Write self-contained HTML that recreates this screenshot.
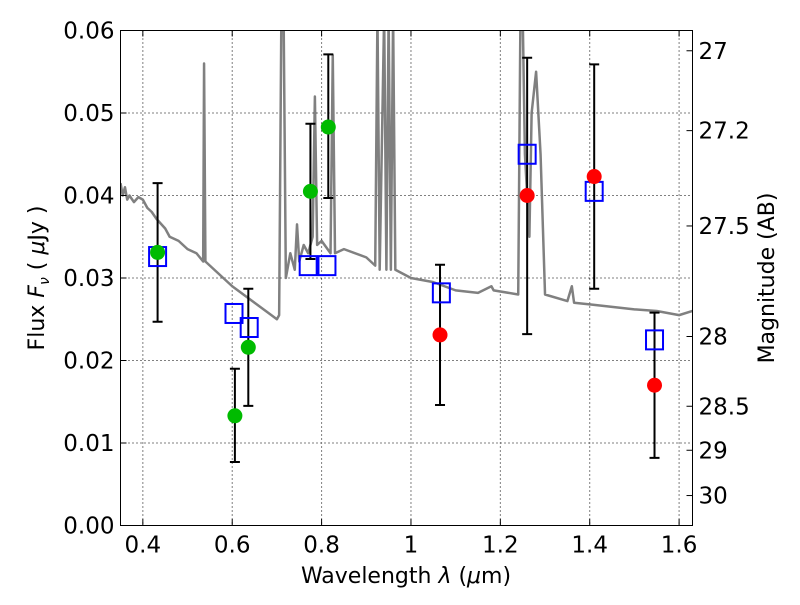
<!DOCTYPE html>
<html><head><meta charset="utf-8"><style>
body{margin:0;background:#fff}
svg text{font-family:"DejaVu Sans","Liberation Sans",sans-serif;fill:#000}
</style></head><body>
<svg id="chart" width="800" height="600" xmlns="http://www.w3.org/2000/svg">
<rect width="800" height="600" fill="#fff"/>
<g id="grid"></g>
<g id="spec"></g>
<g id="marks"></g>
<rect x="120.5" y="30.5" width="572" height="495" fill="none" stroke="#000" stroke-width="1"/>
<g id="axes"></g>
<text x="406" y="583" style="font-size:22px" text-anchor="middle">Wavelength  <tspan font-style="italic">λ</tspan> (<tspan font-style="italic">μ</tspan>m)</text>
<text transform="translate(44,278) rotate(-90)" style="font-size:22px" text-anchor="middle">Flux  <tspan font-style="italic">F</tspan><tspan font-style="italic" style="font-size:14px" dy="5">ν</tspan><tspan dy="-5">  (  </tspan><tspan font-style="italic">μ</tspan>Jy )</text>
<text transform="translate(774,278) rotate(-90)" style="font-size:22px" text-anchor="middle">Magnitude (AB)</text>
</svg>
<script>
const xTicks=[0.4,0.6,0.8,1.0,1.2,1.4,1.6];
const xTickLabels=["0.4","0.6","0.8","1","1.2","1.4","1.6"];
const yTicks=[0,0.01,0.02,0.03,0.04,0.05,0.06];
const yTickLabels=["0.00","0.01","0.02","0.03","0.04","0.05","0.06"];
const magTicks=[27,27.2,27.5,28,28.5,29,30];
const magTickLabels=["27","27.2","27.5","28","28.5","29","30"];
const greenX=[0.433,0.606,0.636,0.775,0.815];
const greenY=[0.0331,0.0133,0.0216,0.0405,0.0483];
const greenLo=[0.0247,0.0077,0.0145,0.0323,0.0397];
const greenHi=[0.0415,0.0190,0.0287,0.0487,0.0571];
const redX=[1.065,1.26,1.41,1.545];
const redY=[0.0231,0.0400,0.0423,0.0170];
const redLo=[0.0146,0.0232,0.0287,0.0082];
const redHi=[0.0316,0.0567,0.0559,0.0258];
const modelX=[0.433,0.604,0.638,0.770,0.812,1.068,1.26,1.41,1.545];
const modelY=[0.0326,0.0257,0.0240,0.0315,0.0315,0.0282,0.0450,0.0405,0.0225];
const specL=[0.35,0.355,0.36,0.365,0.37,0.38,0.39,0.40,0.41,0.42,0.43,0.45,0.46,0.48,0.50,0.52,0.535,0.537,0.54,0.56,0.60,0.65,0.68,0.70,0.705,0.71,0.715,0.72,0.73,0.74,0.745,0.75,0.76,0.77,0.78,0.785,0.79,0.80,0.82,0.825,0.83,0.85,0.90,0.92,0.925,0.93,0.94,0.945,0.95,0.955,0.96,0.965,1.0,1.05,1.1,1.15,1.18,1.185,1.24,1.245,1.25,1.255,1.265,1.27,1.28,1.29,1.30,1.35,1.36,1.365,1.40,1.45,1.50,1.55,1.60,1.63];
const specF=[0.0415,0.0400,0.0410,0.0395,0.0400,0.0392,0.0398,0.0395,0.0385,0.0380,0.0372,0.0360,0.0350,0.0345,0.0335,0.0330,0.0320,0.0560,0.0320,0.0310,0.0290,0.0270,0.0258,0.0250,0.0255,0.0620,0.0620,0.0300,0.0330,0.0310,0.0365,0.0320,0.0340,0.0330,0.0350,0.0520,0.0340,0.0345,0.0330,0.0570,0.0330,0.0335,0.0325,0.0315,0.0620,0.0310,0.0620,0.0310,0.0620,0.0310,0.0620,0.0310,0.0300,0.0295,0.0285,0.0282,0.0290,0.0285,0.0280,0.0620,0.0620,0.0450,0.0350,0.0500,0.0550,0.0450,0.0280,0.0272,0.0290,0.0270,0.0268,0.0265,0.0262,0.0260,0.0255,0.0260];
const NS="http://www.w3.org/2000/svg";
const X0=120.5,X1=692.5,Y0=525.5,Y1=30.5,XMIN=0.35,XMAX=1.63,YMIN=0,YMAX=0.06;
const sx=v=>X0+(v-XMIN)/(XMAX-XMIN)*(X1-X0);
const sy=v=>Y0-(v-YMIN)/(YMAX-YMIN)*(Y0-Y1);
const magToFlux=m=>Math.pow(10,(23.9-m)/2.5);
function mk(tag,attrs,parent){const e=document.createElementNS(NS,tag);for(const k in attrs)e.setAttribute(k,attrs[k]);parent.appendChild(e);return e;}
const grid=document.getElementById('grid'),axes=document.getElementById('axes'),spec=document.getElementById('spec'),marks=document.getElementById('marks');
xTicks.forEach((t,i)=>{const x=sx(t);
 let g=mk('line',{x1:x,x2:x,y1:Y1,y2:Y0,stroke:'#000','stroke-width':1,'stroke-dasharray':'1,3'},grid);
 
 let tk=mk('line',{x1:x,x2:x,y1:Y0,y2:Y0-6,stroke:'#000'},axes);
 
 mk('line',{x1:x,x2:x,y1:Y1,y2:Y1+6,stroke:'#000'},axes);
 let tx=mk('text',{x:x,y:Y0+27,style:'font-size:23px','text-anchor':'middle'},axes);tx.textContent=xTickLabels[i];
 });
yTicks.forEach((t,i)=>{const y=sy(t);
 let g=mk('line',{x1:X0,x2:X1,y1:y,y2:y,stroke:'#000','stroke-width':1,'stroke-dasharray':'1,3'},grid);
 
 let tk=mk('line',{x1:X0,x2:X0+6,y1:y,y2:y,stroke:'#000'},axes);
 
 let tx=mk('text',{x:X0-6,y:y+8,style:'font-size:23px','text-anchor':'end'},axes);tx.textContent=yTickLabels[i];
 });
magTicks.forEach((m,i)=>{const y=sy(magToFlux(m));
 let tk=mk('line',{x1:X1-6,x2:X1,y1:y,y2:y,stroke:'#000'},axes);
 
 let tx=mk('text',{x:X1+6,y:y+8,style:'font-size:23px'},axes);tx.textContent=magTickLabels[i];
 });
const defs=mk('defs',{},document.getElementById('chart'));
const cp=mk('clipPath',{id:'clip'},defs);mk('rect',{x:X0,y:Y1,width:X1-X0,height:Y0-Y1},cp);
spec.setAttribute('clip-path','url(#clip)');marks.setAttribute('clip-path','url(#clip)');
let pl=mk('polyline',{points:specL.map((l,i)=>sx(l)+','+sy(specF[i])).join(' '),fill:'none',stroke:'#808080','stroke-width':2.5,'stroke-linejoin':'round'},spec);

function err(xs,lo,hi){xs.forEach((v,i)=>{const x=sx(v);
 let e=mk('path',{d:`M${x},${sy(lo[i])}V${sy(hi[i])}M${x-5},${sy(lo[i])}H${x+5}M${x-5},${sy(hi[i])}H${x+5}`,stroke:'#000','stroke-width':2,fill:'none'},marks);
 });}
err(greenX,greenLo,greenHi);err(redX,redLo,redHi);
modelX.forEach((v,i)=>{let r=mk('rect',{x:sx(v)-8.5,y:sy(modelY[i])-9.5,width:17,height:19,fill:'none',stroke:'#0000ff','stroke-width':2},marks);
 });
greenX.forEach((v,i)=>{let c=mk('circle',{cx:sx(v),cy:sy(greenY[i]),r:7.5,fill:'#00bb00'},marks);
 });
redX.forEach((v,i)=>{let c=mk('circle',{cx:sx(v),cy:sy(redY[i]),r:7.5,fill:'#ff0000'},marks);
 });
</script>
</body></html>
